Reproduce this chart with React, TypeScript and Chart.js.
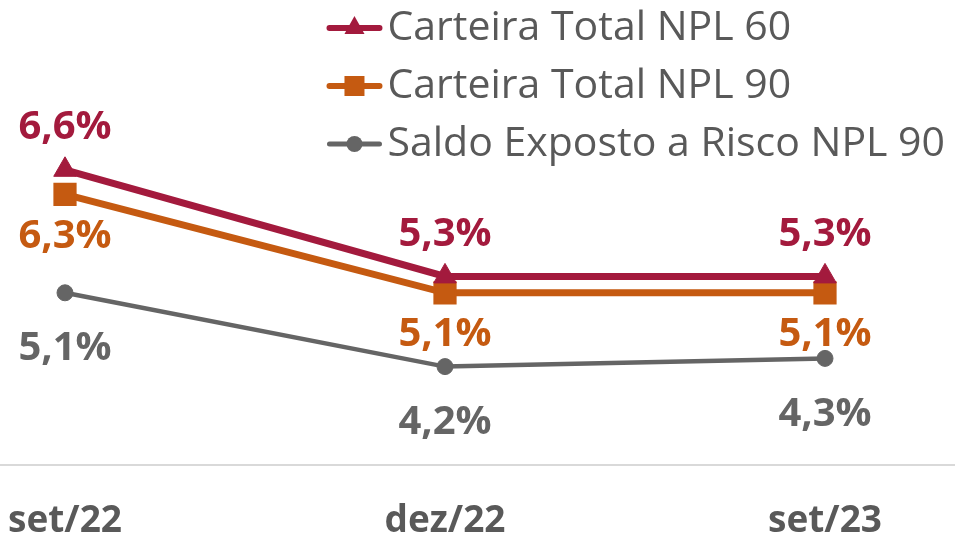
import React, { useEffect, useRef } from 'react';
import { Chart, registerables } from 'chart.js';

Chart.register(...registerables);

const categories = ['set/22', 'dez/22', 'set/23'];
const npl60 = [6.6, 5.3, 5.3];
const npl90 = [6.3, 5.1, 5.1];
const saldoNpl90 = [5.1, 4.2, 4.3];
const seriesNames = ['Carteira Total NPL 60', 'Carteira Total NPL 90', 'Saldo Exposto a Risco NPL 90'];
const seriesColors = ['#A31A3D', '#C55A11', '#656565'];
const seriesValues = [npl60, npl90, saldoNpl90];
const pointStyles = ['triangle', 'rect', 'circle'];

const fmt = (v: number) => v.toFixed(1).replace('.', ',') + '%';

const W = 955;
const H = 539;

const dataLabelPlugin = {
  id: 'dataLabels',
  afterDatasetsDraw(chart: any) {
    const ctx = chart.ctx;
    ctx.save();
    ctx.font = 'bold 40px "Open Sans"';
    ctx.textAlign = 'center';
    ctx.textBaseline = 'middle';
    chart.data.datasets.forEach((ds: any, i: number) => {
      const meta = chart.getDatasetMeta(i);
      ctx.fillStyle = ds.borderColor;
      meta.data.forEach((pt: any, j: number) => {
        ctx.fillText(fmt(ds.data[j].y), pt.x, pt.y + ds.labelOffset);
      });
    });
    ctx.restore();
  },
};

const legendPlugin = {
  id: 'sideLegend',
  afterDraw(chart: any) {
    const ctx = chart.ctx;
    ctx.save();
    ctx.font = '41px "Open Sans"';
    const maxW = Math.max(...seriesNames.map((n) => ctx.measureText(n).width));
    const textX = chart.width - 10 - maxW;
    seriesNames.forEach((name, i) => {
      const y = 28 + i * 58;
      const color = seriesColors[i];
      ctx.strokeStyle = color;
      ctx.lineWidth = i === 2 ? 5 : 6;
      ctx.lineCap = 'round';
      ctx.beginPath();
      ctx.moveTo(textX - 58, y);
      ctx.lineTo(textX - 8, y);
      ctx.stroke();
      const cx = textX - 33;
      ctx.fillStyle = color;
      ctx.beginPath();
      if (i === 0) {
        ctx.moveTo(cx, y - 12);
        ctx.lineTo(cx + 10, y + 6);
        ctx.lineTo(cx - 10, y + 6);
        ctx.closePath();
        ctx.fill();
      } else if (i === 1) {
        ctx.fillRect(cx - 10, y - 10, 20, 20);
      } else {
        ctx.arc(cx, y, 8, 0, Math.PI * 2);
        ctx.fill();
      }
      ctx.fillStyle = '#595959';
      ctx.textAlign = 'left';
      ctx.textBaseline = 'middle';
      ctx.fillText(name, textX, y);
    });
    ctx.restore();
  },
};

export default function App() {
  const ref = useRef<HTMLCanvasElement | null>(null);

  useEffect(() => {
    document.body.style.margin = '0';
    const canvas = ref.current;
    if (!canvas) return;
    const labelOffsets = [-42, 42, 56];
    const borderWidths = [7, 7, 4.5];
    const radii = [13, 15, 8];
    const chart = new Chart(canvas, {
      type: 'line',
      data: {
        datasets: seriesValues.map((vals, i) => ({
          label: seriesNames[i],
          data: vals.map((v, j) => ({ x: j, y: v })),
          borderColor: seriesColors[i],
          backgroundColor: seriesColors[i],
          pointBackgroundColor: seriesColors[i],
          pointBorderColor: seriesColors[i],
          pointBorderWidth: i === 1 ? 2 : 1,
          borderWidth: borderWidths[i],
          pointStyle: pointStyles[i] as any,
          pointRadius: radii[i],
          tension: 0,
          fill: false,
          clip: false,
          labelOffset: labelOffsets[i],
        })) as any,
      },
      options: {
        animation: false,
        responsive: false,
        layout: { autoPadding: false, padding: { top: 137, left: 0, right: 0, bottom: 0 } },
        plugins: {
          legend: { display: false },
          tooltip: { enabled: false },
        },
        scales: {
          x: {
            type: 'linear',
            min: -65 / 380,
            max: (955 - 65) / 380,
            grid: { display: false, drawTicks: false },
            border: { display: true, color: '#D9D9D9', width: 2 },
            afterBuildTicks: (scale: any) => {
              scale.ticks = categories.map((_, i) => ({ value: i }));
            },
            afterFit: (scale: any) => {
              scale.height = 74;
              scale.paddingLeft = 0;
              scale.paddingRight = 0;
            },
            ticks: {
              padding: 34,
              maxRotation: 0,
              autoSkip: false,
              color: '#595959',
              font: { family: '"Open Sans"', size: 37, weight: 'bold' },
              callback: (v: any) => categories[Number(v)] ?? '',
            },
          },
          y: {
            display: false,
            min: 3,
            max: 7,
          },
        },
      },
      plugins: [dataLabelPlugin, legendPlugin],
    });
    return () => chart.destroy();
  }, []);

  return <canvas ref={ref} width={W} height={H} style={{ display: 'block' }} />;
}
